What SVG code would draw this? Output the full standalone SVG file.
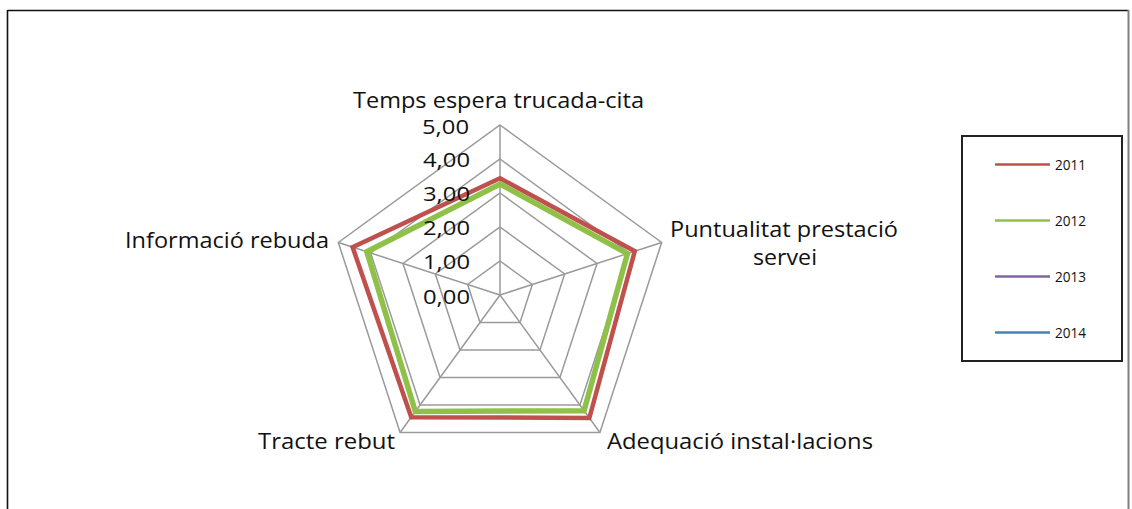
<svg xmlns="http://www.w3.org/2000/svg" width="1132" height="509" viewBox="0 0 1132 509">
<style>
.grid{fill:none;stroke:#9a9a9a;stroke-width:1.5}
.lbl{font-family:"Open Sans","Noto Sans",sans-serif;font-size:22px;fill:#111}
.tick{font-family:"Open Sans","Noto Sans",sans-serif;font-size:20px;fill:#111;text-anchor:end}
.leg{font-family:"Open Sans","Noto Sans",sans-serif;font-size:14px;fill:#111}
.s2011{fill:none;stroke:#c0504d;stroke-width:4.5;stroke-linejoin:miter}
.s2012{fill:none;stroke:#8fc149;stroke-width:5.5;stroke-linejoin:miter}
</style>
<rect x="0" y="0" width="1132" height="509" fill="#ffffff"/>
<g id="frame">
<line x1="7.5" y1="10.5" x2="1128.5" y2="10.5" stroke="#111" stroke-width="1.6"/>
<line x1="7.5" y1="10" x2="7.5" y2="509" stroke="#111" stroke-width="1.6"/>
<line x1="1128.5" y1="10" x2="1128.5" y2="509" stroke="#808080" stroke-width="2"/>
</g>
<g id="grid">
<polygon class="grid" points="500,261 532.34,284.49 519.98,322.51 480.02,322.51 467.66,284.49"/>
<polygon class="grid" points="500,227 564.67,273.99 539.97,350.01 460.03,350.01 435.33,273.99"/>
<polygon class="grid" points="500,193 597.01,263.48 559.95,377.52 440.05,377.52 402.99,263.48"/>
<polygon class="grid" points="500,159 629.34,252.97 579.94,405.03 420.06,405.03 370.66,252.97"/>
<polygon class="grid" points="500,125 661.68,242.47 599.92,432.53 400.08,432.53 338.32,242.47"/>
<path class="grid" d="M500,295 L500,125 M500,295 L661.68,242.47 M500,295 L599.92,432.53 M500,295 L400.08,432.53 M500,295 L338.32,242.47"/>
</g>
<g id="connectors">
<polygon id="series-2011" class="s2011" points="500,178.3 634.77,251.21 589.34,417.97 411.24,417.16 352.59,247.10"/>
<polygon id="series-2012" class="s2012" points="500,184 627.44,253.59 584.05,410.69 415.36,411.50 366.85,251.74"/>
</g>
<g id="ticks">
<text class="tick" x="469" y="134" textLength="47" lengthAdjust="spacingAndGlyphs">5,00</text>
<text class="tick" x="470" y="167" textLength="47" lengthAdjust="spacingAndGlyphs">4,00</text>
<text class="tick" x="470" y="201" textLength="47" lengthAdjust="spacingAndGlyphs">3,00</text>
<text class="tick" x="470" y="235" textLength="47" lengthAdjust="spacingAndGlyphs">2,00</text>
<text class="tick" x="470" y="269" textLength="47" lengthAdjust="spacingAndGlyphs">1,00</text>
<text class="tick" x="470" y="304" textLength="47" lengthAdjust="spacingAndGlyphs">0,00</text>
</g>
<g id="axis-top"><text class="lbl" x="353" y="108" textLength="291" lengthAdjust="spacingAndGlyphs">Temps espera trucada-cita</text></g>
<g id="axis-upper-right">
<text class="lbl" x="670" y="237" textLength="228" lengthAdjust="spacingAndGlyphs">Puntualitat prestació</text>
<text class="lbl" x="753" y="265" textLength="64" lengthAdjust="spacingAndGlyphs">servei</text>
</g>
<g id="axis-lower-right"><text class="lbl" x="607" y="449" textLength="266" lengthAdjust="spacingAndGlyphs">Adequació instal·lacions</text></g>
<g id="axis-lower-left"><text class="lbl" x="258" y="449" textLength="137" lengthAdjust="spacingAndGlyphs">Tracte rebut</text></g>
<g id="axis-left"><text class="lbl" x="125" y="248" textLength="204" lengthAdjust="spacingAndGlyphs">Informació rebuda</text></g>
<g id="legend">
<rect x="962" y="136" width="160" height="225" fill="#fff" stroke="#222" stroke-width="2"/>
<line x1="995" y1="164.5" x2="1050" y2="164.5" stroke="#c0504d" stroke-width="2.5"/>
<text class="leg" x="1055" y="169.5" textLength="31" lengthAdjust="spacingAndGlyphs">2011</text>
<line x1="995" y1="220.5" x2="1050" y2="220.5" stroke="#8fc149" stroke-width="2.5"/>
<text class="leg" x="1055" y="225.5" textLength="31" lengthAdjust="spacingAndGlyphs">2012</text>
<line x1="995" y1="276.5" x2="1050" y2="276.5" stroke="#8064a2" stroke-width="2.5"/>
<text class="leg" x="1055" y="281.5" textLength="31" lengthAdjust="spacingAndGlyphs">2013</text>
<line x1="995" y1="332.5" x2="1050" y2="332.5" stroke="#4a7ebb" stroke-width="2.5"/>
<text class="leg" x="1055" y="337.5" textLength="31" lengthAdjust="spacingAndGlyphs">2014</text>
</g>
</svg>
